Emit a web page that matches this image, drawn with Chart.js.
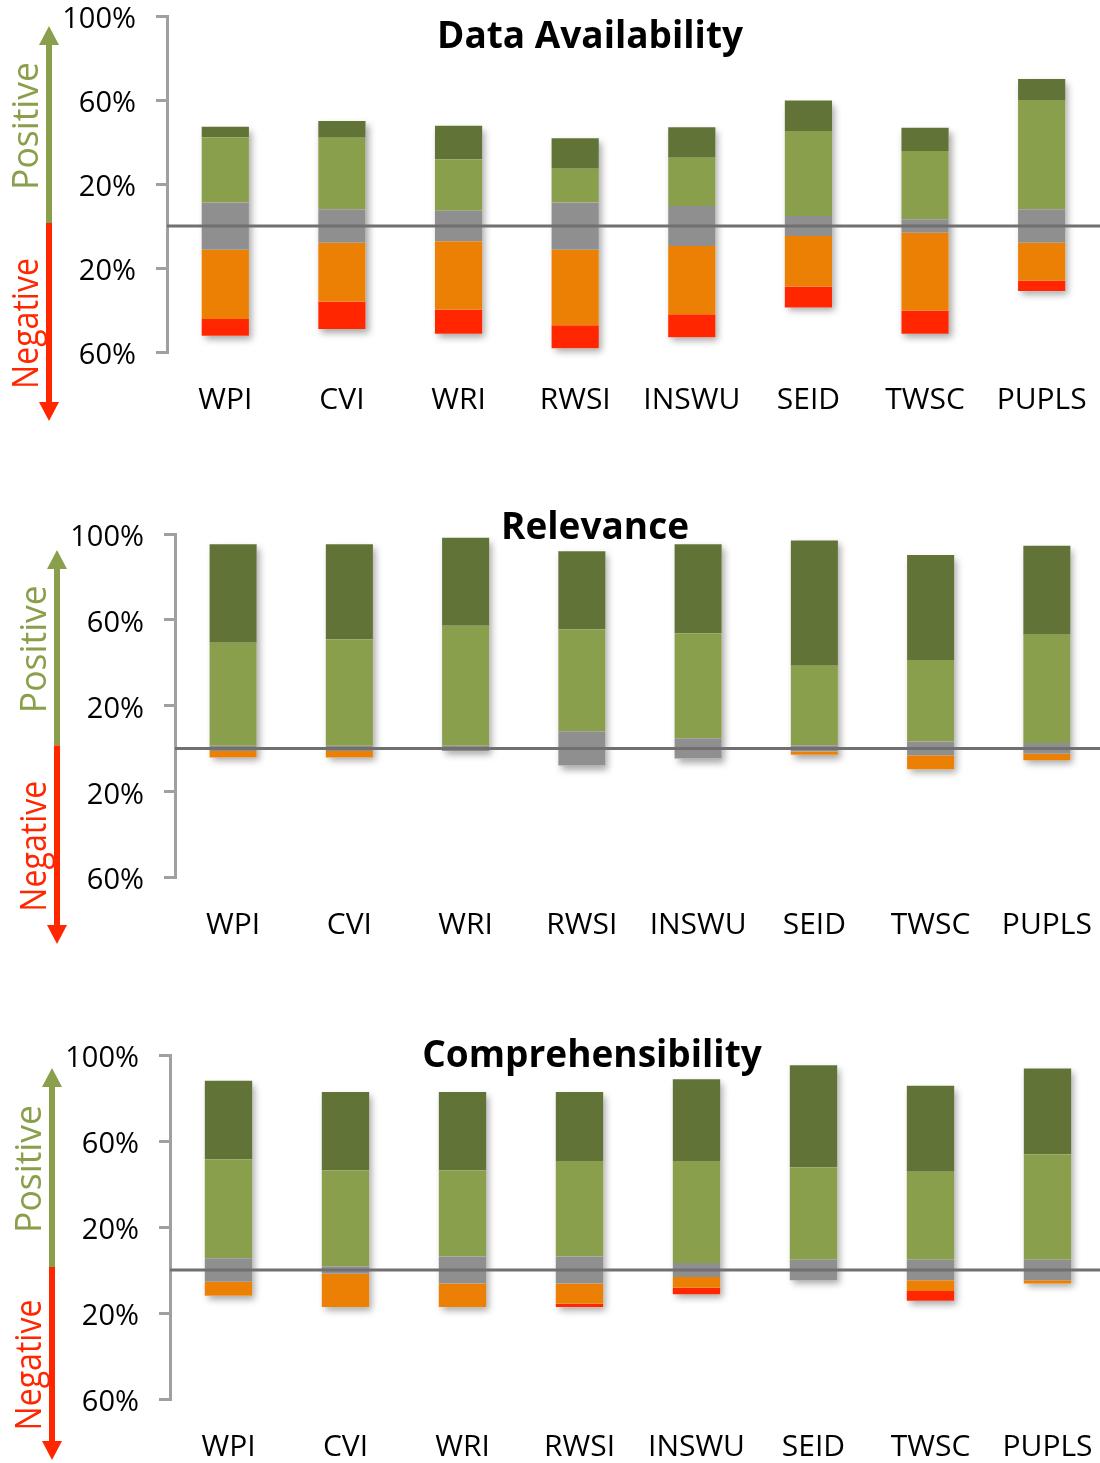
<!DOCTYPE html>
<html>
<head>
<meta charset="utf-8">
<script src="https://cdn.jsdelivr.net/npm/chart.js@4.4.0/dist/chart.umd.min.js"></script>
<style>
  html, body { margin: 0; padding: 0; background: #fff; width: 1100px; height: 1463px; overflow: hidden; }
  canvas { position: absolute; left: 0; }
</style>
</head>
<body>
<canvas id="availability" width="1100" height="440" style="top:0px"></canvas>
<canvas id="relevance" width="1105" height="480" style="top:480px"></canvas>
<canvas id="comprehensibility" width="1106" height="463" style="top:1000px"></canvas>
<script>
const categories = ['WPI', 'CVI', 'WRI', 'RWSI', 'INSWU', 'SEID', 'TWSC', 'PUPLS'];
const yTickValues = [-60, -20, 20, 60, 100];

// Data Availability (% of answers)
const availStrongPos = [5, 8, 16, 14.5, 14.5, 14.5, 11, 10];
const availPos = [31, 34, 24.5, 16, 23, 40.5, 32.5, 52];
const availNeutral = [22.5, 16, 14.5, 22.5, 19, 9.5, 6.5, 16];
const availNeg = [33, 28, 32.5, 36, 32.5, 24, 37, 18];
const availStrongNeg = [8, 13, 11.5, 11, 11, 10, 11, 5];

// Relevance
const relStrongPos = [46, 44.5, 41, 36.5, 41.5, 58.5, 49, 41.5];
const relPos = [48, 49.5, 56, 47.5, 49, 37, 38, 50.5];
const relNeutral = [2.5, 2.5, 2.5, 16, 9.5, 3, 6.5, 5];
const relNeg = [3, 3, 0, 0, 0, 1.5, 6.5, 3];
const relStrongNeg = [0, 0, 0, 0, 0, 0, 0, 0];

// Comprehensibility
const compStrongPos = [36.5, 36.5, 36.5, 32, 38, 47.5, 40, 40];
const compPos = [46, 44.5, 40, 44.5, 47.5, 43, 41, 49];
const compNeutral = [11, 3.5, 12.5, 12.5, 6.5, 9.5, 9.5, 9.5];
const compNeg = [6.5, 15.5, 11, 9.5, 5, 0, 5, 1.5];
const compStrongNeg = [0, 0, 0, 1.5, 3, 0, 4.5, 0];

const colDarkGreen = '#617337';
const colLightGreen = '#8A9F4B';
const colGray = '#8F8F8F';
const colOrange = '#EB8005';
const colRed = '#FF2600';
const colAxis = '#A0A0A0';
const colZero = '#707070';
const fontFamily = '"Open Sans", "Liberation Sans", sans-serif';

// shadows, zero line, side arrows and the panel title
const decor = {
    id: 'decor',
    beforeDatasetsDraw(chart) {
        const ctx = chart.ctx;
        const metas = chart.getSortedVisibleDatasetMetas();
        ctx.save();
        ctx.shadowColor = 'rgba(0,0,0,0.35)';
        ctx.shadowBlur = 7;
        ctx.shadowOffsetX = 3;
        ctx.shadowOffsetY = 4;
        ctx.fillStyle = '#fff';
        categories.forEach((c, i) => {
            let top = Infinity, bottom = -Infinity, x = 0, w = 0;
            metas.forEach(m => {
                const el = m.data[i];
                top = Math.min(top, el.y, el.base);
                bottom = Math.max(bottom, el.y, el.base);
                x = el.x; w = el.width;
            });
            ctx.fillRect(x - w / 2, top, w, bottom - top);
        });
        ctx.restore();
    },
    afterDatasetsDraw(chart) {
        const ctx = chart.ctx;
        const y0 = chart.scales.y.getPixelForValue(0);
        ctx.save();
        ctx.strokeStyle = colZero;
        ctx.lineWidth = 3;
        ctx.beginPath();
        ctx.moveTo(chart.chartArea.left, y0);
        ctx.lineTo(chart.width, y0);
        ctx.stroke();
        ctx.restore();
    },
    afterDraw(chart, args, opts) {
        const ctx = chart.ctx;
        const area = chart.chartArea;
        const y0 = chart.scales.y.getPixelForValue(0);
        const ax = area.left - 118;
        const topTip = area.top + opts.arrowRise;
        const botTip = area.bottom + opts.arrowDrop;
        const head = 19;
        ctx.save();
        // green half
        ctx.fillStyle = colLightGreen;
        ctx.fillRect(ax - 3, topTip + head - 1, 6, y0 - 3 - (topTip + head - 1));
        ctx.beginPath();
        ctx.moveTo(ax, topTip);
        ctx.lineTo(ax + 10, topTip + head);
        ctx.lineTo(ax - 10, topTip + head);
        ctx.closePath();
        ctx.fill();
        // red half
        ctx.fillStyle = colRed;
        ctx.fillRect(ax - 3, y0 - 3, 6, botTip - head + 1 - (y0 - 3));
        ctx.beginPath();
        ctx.moveTo(ax, botTip);
        ctx.lineTo(ax + 10, botTip - head);
        ctx.lineTo(ax - 10, botTip - head);
        ctx.closePath();
        ctx.fill();

        ctx.font = '36px ' + fontFamily;
        ctx.textAlign = 'center';
        ctx.textBaseline = 'alphabetic';
        ctx.save();
        ctx.translate(ax - 11, (topTip + y0) / 2);
        ctx.rotate(-Math.PI / 2);
        ctx.fillStyle = colLightGreen;
        ctx.fillText('Positive', 0, 0, 128);
        ctx.restore();
        ctx.save();
        ctx.translate(ax - 11, (botTip + y0) / 2);
        ctx.rotate(-Math.PI / 2);
        ctx.fillStyle = colRed;
        ctx.fillText('Negative', 0, 0, 131);
        ctx.restore();

        ctx.fillStyle = '#000';
        ctx.font = 'bold 37px ' + fontFamily;
        ctx.fillText(opts.title, opts.titleX, opts.titleY);
        ctx.restore();
    }
};

function makeChart(id, title, strongPos, pos, neutral, neg, strongNeg, lay) {
    const ctx = document.getElementById(id).getContext('2d');
    return new Chart(ctx, {
        type: 'bar',
        data: {
            labels: categories,
            datasets: [
                { label: 'Neutral', data: neutral.map(v => v / 2), backgroundColor: colGray },
                { label: 'Neutral', data: neutral.map(v => -v / 2), backgroundColor: colGray },
                { label: 'Positive', data: pos, backgroundColor: colLightGreen },
                { label: 'Negative', data: neg.map(v => -v), backgroundColor: colOrange },
                { label: 'Very positive', data: strongPos, backgroundColor: colDarkGreen },
                { label: 'Very negative', data: strongNeg.map(v => -v), backgroundColor: colRed }
            ]
        },
        options: {
            responsive: false,
            animation: false,
            layout: { padding: { top: lay.top, left: 0, right: 0, bottom: 0 } },
            datasets: { bar: { barPercentage: 0.405, categoryPercentage: 1, borderWidth: 0 } },
            scales: {
                x: {
                    stacked: true,
                    grid: { display: false },
                    border: { display: false },
                    ticks: { color: '#000', font: { family: fontFamily, size: 30 }, padding: 22, maxRotation: 0, autoSkip: false },
                    afterFit: s => { s.height = lay.xHeight; s.paddingLeft = 0; s.paddingRight = 0; }
                },
                y: {
                    stacked: true,
                    min: -60,
                    max: 100,
                    afterBuildTicks: s => { s.ticks = yTickValues.map(v => ({ value: v })); },
                    afterFit: s => { s.width = lay.axisX; s.paddingTop = 0; s.paddingBottom = 0; },
                    grid: { drawOnChartArea: false, drawTicks: true, tickLength: 11, color: colAxis, lineWidth: 3 },
                    border: { display: true, color: colAxis, width: 3 },
                    ticks: {
                        color: '#000',
                        font: { family: fontFamily, size: 29 },
                        padding: 20,
                        labelOffset: 4,
                        callback: v => Math.abs(v) + '%'
                    }
                }
            },
            plugins: {
                legend: { display: false },
                tooltip: { enabled: false },
                decor: { title: title, titleX: lay.titleX, titleY: lay.titleY, arrowRise: lay.arrowRise, arrowDrop: lay.arrowDrop }
            }
        },
        plugins: [decor]
    });
}

makeChart('availability', 'Data Availability',
    availStrongPos, availPos, availNeutral, availNeg, availStrongNeg,
    { top: 16, xHeight: 88, axisX: 167, titleX: 590, titleY: 48, arrowRise: 10, arrowDrop: 69 });

makeChart('relevance', 'Relevance',
    relStrongPos, relPos, relNeutral, relNeg, relStrongNeg,
    { top: 54, xHeight: 83, axisX: 175, titleX: 595, titleY: 59, arrowRise: 16, arrowDrop: 67 });

makeChart('comprehensibility', 'Comprehensibility',
    compStrongPos, compPos, compNeutral, compNeg, compStrongNeg,
    { top: 55, xHeight: 64, axisX: 170, titleX: 592, titleY: 67, arrowRise: 13, arrowDrop: 61 });
</script>
</body>
</html>
